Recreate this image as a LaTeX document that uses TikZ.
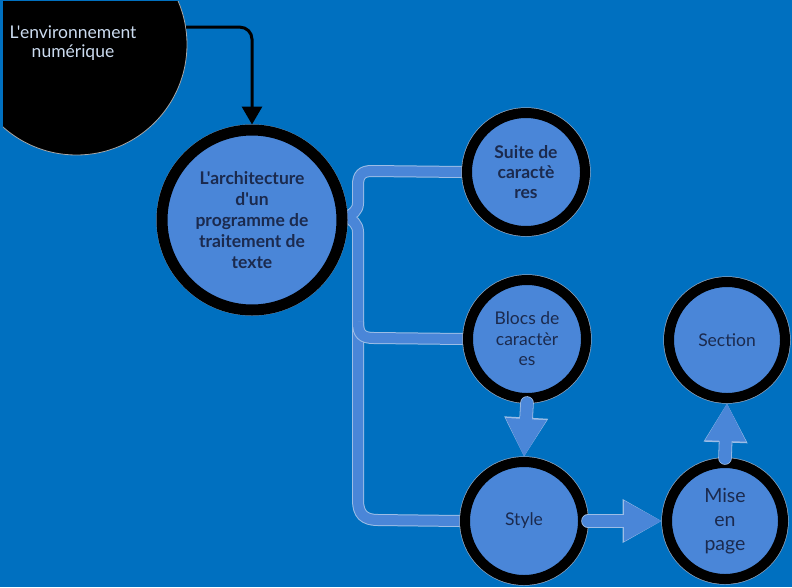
\documentclass[tikz,border=0pt]{standalone}
\usepackage{fontspec}
\setmainfont{Lato}[Ligatures=TeXOff]
\usetikzlibrary{arrows.meta,calc}

\definecolor{bgblue}{HTML}{0070C0}
\definecolor{bubble}{HTML}{4A86D8}
\definecolor{bubbleedge}{HTML}{9CBDE6}
\definecolor{ink}{HTML}{1B2A4E}
\definecolor{paletext}{HTML}{CCDCF0}

\pgfdeclarelayer{ground}
\pgfdeclarelayer{links}
\pgfsetlayers{ground,links,main}

\tikzset{
  bubble/.style={circle, fill=bubble, draw=black, line width=10, inner sep=0pt,
    minimum size=#1, text=ink, align=center,
    preaction={draw=bubbleedge!60!gray, line width=11.4}},
  band/.style={draw=bubble, line width=10, line join=round,
    preaction={draw=bubbleedge, line width=12}},
  fatarrow/.style={draw=bubble, line width=12, line cap=round,
    -{Triangle[length=38,width=38]},
    preaction={draw=bubbleedge, line width=13.6, line cap=round,
      -{Triangle[length=39.5,width=41]}}},
  bodytext/.style={font=\fontsize{17.5}{20.5}\selectfont},
}

\begin{document}
\begin{tikzpicture}[x=1pt,y=-1pt]
  \useasboundingbox (0,0) rectangle (792,587);
  \begin{pgfonlayer}{ground}
    \fill[bgblue] (0,0) rectangle (792,587);
  \end{pgfonlayer}

  % dark corner bubble, trimmed by the frame
  \begin{scope}
    \clip (3,1) rectangle (792,587);
    \node[circle, fill=black, draw=gray!70, line width=0.8, minimum size=221,
          inner sep=0pt] (env) at (76.5,44.5) {};
  \end{scope}
  \node[text=paletext, align=center, font=\fontsize{17.5}{19.5}\selectfont]
    (envlabel) at (73,43) {L'environnement\\numérique};

  % main bubble and its parts
  \node[bubble=180, line width=11, font=\bfseries\fontsize{17.5}{21}\selectfont]
    (main) at (252,220) {L'architecture\\d'un\\programme de\\traitement de\\texte};

  \node[bubble=118, font=\bfseries\fontsize{17.5}{20}\selectfont]
    (suite) at (526,172) {Suite de\\caractè\\res};
  \node[bubble=118, bodytext] (blocs) at (527,339) {Blocs de\\caractèr\\es};
  \node[bubble=118, bodytext] (style) at (524,521) {Style};
  \node[bubble=116, font=\fontsize{19.5}{24}\selectfont] (mise) at (725,521) {Mise\\en\\page};
  \node[bubble=116, bodytext] (section) at (727,340) {Section};

  % brace joining the main bubble to the three parts
  \begin{pgfonlayer}{links}
    \coordinate (tip) at ($(main.east)+(0,-3)$);
    \draw[band] (suite.west) -- (372,171)
        .. controls (362,171) and (358,175) .. (358,185) -- (358,203)
        .. controls (358,211) and (352,214) .. (tip)
        .. controls (352,220) and (358,224) .. (358,232)
        -- (358,500)
        .. controls (358,514) and (364,520) .. (378,520) -- (style.west);
    \draw[band] (358,322) .. controls (358,334) and (362,338) .. (374,338) -- (blocs.west);
  \end{pgfonlayer}

  % arrows between the parts
  \draw[fatarrow] (blocs.south) -- (style.north);
  \draw[fatarrow] (style.east) -- (mise.west);
  \draw[fatarrow] (mise.north) -- (section.south);

  % link from the corner bubble
  \draw[black, line width=3, rounded corners=12, -{Triangle[length=18,width=20]}]
    (env.9) -| (main.north);
\end{tikzpicture}
\end{document}
